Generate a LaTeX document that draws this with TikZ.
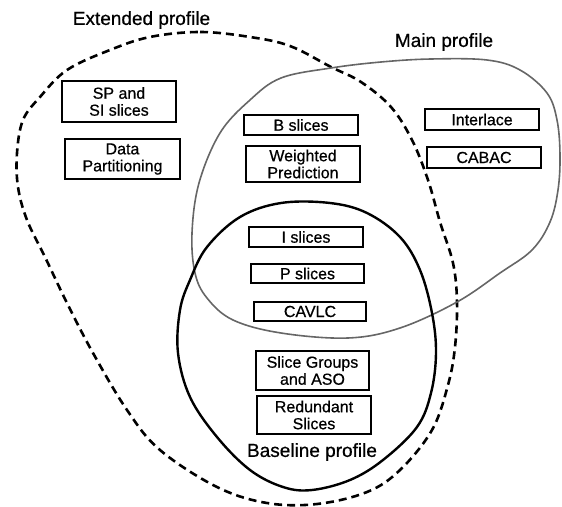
\documentclass[tikz,border=0pt]{standalone}
\usepackage{fontspec}
\setmainfont{Liberation Sans}
\newfontfamily\scanfont{Liberation Sans}[FakeBold=0.6]
\begin{document}
\begin{tikzpicture}[x=1pt,y=-1pt,
  box/.style={draw, line width=1.3pt, inner sep=0pt, align=center,
    font=\scanfont\fontsize{16}{17}\selectfont},
  plabel/.style={font=\scanfont\fontsize{19}{21}\selectfont, inner sep=0pt},
  extcurve/.style={line width=2.6pt, dash pattern=on 8pt off 5pt},
  maincurve/.style={line width=1.6pt, draw=black!60},
  basecurve/.style={line width=2.4pt}]
\useasboundingbox (0,0) rectangle (562,506);
% Extended profile (dashed)
\draw[extcurve] plot[smooth cycle, tension=0.6] coordinates {
 (150,37) (200,32) (250,37) (290,46) (331,67) (361,82) (391,107) (412,140)
 (428,180) (440,222) (453,263) (457,302) (455,347) (448,385) (432,430)
 (400,470) (367,492) (317,504) (267,503) (217,487) (160,450) (127,410)
 (93,353) (67,303) (45,257) (27,220) (18,187) (17,153) (23,120) (40,97)
 (67,70) (110,50)};
% Main profile (gray)
\draw[maincurve] plot[smooth cycle, tension=0.6] coordinates {
 (250,100) (281,78) (331,68) (381,62) (431,59) (487,60) (520,70) (547,93)
 (557,120) (560,155) (558,190) (550,222) (532,250) (500,273) (457,302)
 (400,328) (348,338) (281,333) (233,320) (207,298) (195,273) (192,233)
 (199,183) (220,133)};
% Baseline profile (solid)
\draw[basecurve] plot[smooth cycle, tension=0.6] coordinates {
 (281,203) (330,203) (367,213) (400,237) (420,270) (432,313) (436,353)
 (431,393) (417,427) (383,460) (350,480) (312,490) (283,487) (250,470)
 (217,437) (190,397) (178,353) (180,310) (190,280) (207,247) (240,217)};
% Labels
\node[plabel] (lext) at (141.5,20) {Extended profile};
\node[plabel] (lmain) at (444,42) {Main profile};
\node[plabel] (lbase) at (312,452) {Baseline profile};
% Boxes
\node[box, minimum width=114pt, minimum height=41pt] (spsi) at (119,101.5) {SP and\\SI slices};
\node[box, minimum width=115pt, minimum height=40pt] (dp) at (122.5,159) {Data\\Partitioning};
\node[box, minimum width=114pt, minimum height=20pt] (bs) at (301,125) {B slices};
\node[box, minimum width=114pt, minimum height=36pt] (wp) at (303,164) {Weighted\\Prediction};
\node[box, minimum width=114pt, minimum height=21pt] (il) at (482,119.5) {Interlace};
\node[box, minimum width=114pt, minimum height=21pt] (cabac) at (484,157.5) {CABAC};
\node[box, minimum width=114pt, minimum height=20pt] (is) at (306,237) {I slices};
\node[box, minimum width=113pt, minimum height=19pt] (ps) at (307.5,273.5) {P slices};
\node[box, minimum width=112pt, minimum height=19pt] (cavlc) at (310,311.5) {CAVLC};
\node[box, minimum width=113pt, minimum height=39pt] (sg) at (312.5,370.5) {Slice Groups\\and ASO};
\node[box, minimum width=114pt, minimum height=38pt] (rs) at (314,415) {Redundant\\Slices};
\end{tikzpicture}
\end{document}
